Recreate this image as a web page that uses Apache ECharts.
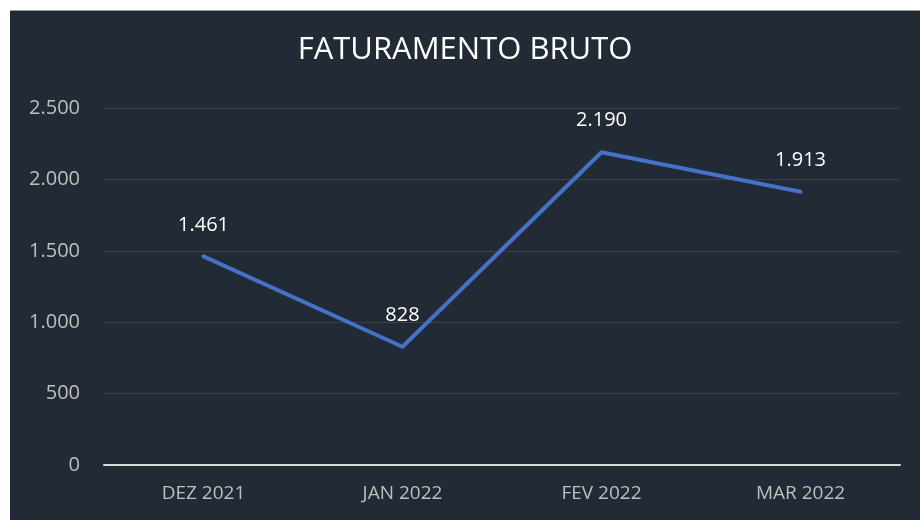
<!DOCTYPE html>
<html>
<head>
<meta charset="utf-8">
<script src="https://cdn.jsdelivr.net/npm/echarts@6/dist/echarts.min.js"></script>
<style>
  html, body { margin: 0; padding: 0; background: #ffffff; }
  #panel {
    position: absolute; left: 10px; top: 10px;
    width: 910px; height: 510px;
    background: #222a35;
    border-top: 1px solid #9a9a9a;
    box-sizing: border-box;
  }
</style>
</head>
<body>
<div id="panel"></div>
<script>
// dados do gráfico
const categories = ['DEZ 2021', 'JAN 2022', 'FEV 2022', 'MAR 2022']
const faturamento = [1461, 828, 2190, 1913]
const yTicks = { min: 0, max: 2500, interval: 500 }

// formato pt-BR: 2.500
const fmt = v => v.toLocaleString('pt-BR')

const chart = echarts.init(document.getElementById('panel'))

chart.setOption({
  backgroundColor: '#222a35',
  textStyle: { fontFamily: 'Open Sans' },
  title: {
    text: 'FATURAMENTO BRUTO',
    left: 'center',
    top: 19,
    textStyle: { color: '#ffffff', fontSize: 31, fontWeight: 'normal', fontFamily: 'Open Sans' }
  },
  grid: { left: 94, right: 20, top: 97, bottom: 55 },
  xAxis: {
    type: 'category',
    data: categories,
    boundaryGap: true,
    axisLine: { lineStyle: { color: '#d9d9d9', width: 2 } },
    axisTick: { show: false },
    axisLabel: { color: '#bfbfbf', fontSize: 19, margin: 19 }
  },
  yAxis: {
    type: 'value',
    min: yTicks.min,
    max: yTicks.max,
    interval: yTicks.interval,
    axisLine: { show: false },
    axisTick: { show: false },
    axisLabel: { color: '#bfbfbf', fontSize: 20, margin: 24, formatter: fmt },
    splitLine: { lineStyle: { color: '#3a414b', width: 1 } }
  },
  series: [{
    type: 'line',
    data: faturamento,
    symbol: 'circle',
    symbolSize: 3,
    itemStyle: { color: '#4472c4' },
    lineStyle: { color: '#4472c4', width: 4, cap: 'round', join: 'round' },
    label: {
      show: true,
      position: 'top',
      distance: 20,
      color: '#ffffff',
      fontSize: 20,
      formatter: p => fmt(p.value)
    },
    animation: false
  }]
})
</script>
</body>
</html>
